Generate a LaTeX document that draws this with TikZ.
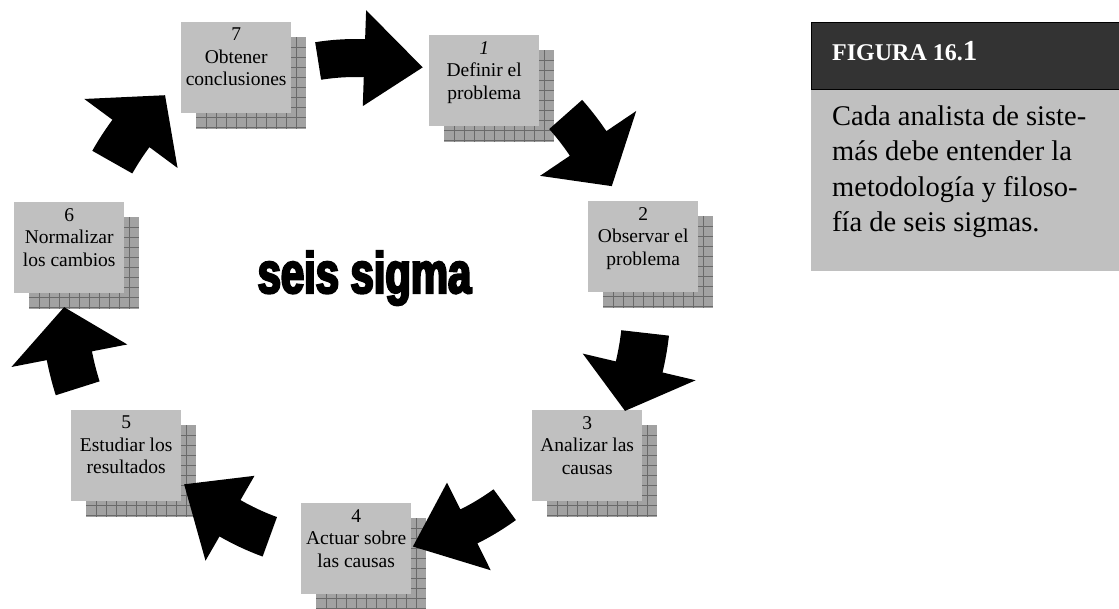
\documentclass[tikz,border=0pt]{standalone}
\usepackage{fontspec}
\setmainfont{Liberation Serif}
\newfontfamily\heavyfont[FakeStretch=0.72,FakeBold=4]{Liberation Sans}
\definecolor{boxgray}{HTML}{C0C0C0}
\definecolor{shadowgray}{HTML}{A2A2A2}
\definecolor{gridcol}{HTML}{6A6A6A}
\definecolor{headgray}{HTML}{333333}
\definecolor{panelgray}{HTML}{C0C0C0}
\tikzset{
  frontbox/.style={fill=boxgray, draw=none, minimum width=110pt, minimum height=91pt, inner sep=0pt, anchor=north west},
  shadowbox/.style={fill=shadowgray, draw=none, minimum width=110pt, minimum height=92pt, inner sep=0pt, anchor=north west},
  gridline/.style={draw=gridcol, line width=0.8pt},
  boxtext/.style={font=\fontsize{19.5}{22.5}\selectfont, align=center, inner sep=0pt, anchor=north},
  arrowfill/.style={fill=black}
}
% stepbox: name, x, y (top-left of front box), text
\newcommand{\stepbox}[4]{%
  \node[shadowbox] (#1s) at (#2+15,#3+15) {};
  \foreach \k in {1,...,10} {\draw[gridline] (#2+15+\k*10,#3+15) -- ++(0,92);}
  \foreach \k in {1,...,9} {\draw[gridline] (#2+15,#3+15+\k*10) -- ++(110,0);}
  \node[frontbox] (#1f) at (#2,#3) {};
  \node[boxtext] (#1t) at ([yshift=-6pt]#1f.north) {#4};
}
% ringarrow: R, a0, a1, a2, shaft half width, head half width
\newcommand{\ringarrow}[6]{%
  \fill[arrowfill] plot[domain=#2:#3,samples=12] ({356+(#1-#5)*cos(\x)},{300+(#1-#5)*sin(\x)})
    -- ({356+(#1-#6)*cos(#3)},{300+(#1-#6)*sin(#3)})
    -- ({356+#1*cos(#4)},{300+#1*sin(#4)})
    -- ({356+(#1+#6)*cos(#3)},{300+(#1+#6)*sin(#3)})
    -- plot[domain=#3:#2,samples=12] ({356+(#1+#5)*cos(\x)},{300+(#1+#5)*sin(\x)})
    -- cycle;
}
\begin{document}
\begin{tikzpicture}[x=1pt,y=-1pt]
\useasboundingbox (0,0) rectangle (1119,608);
\fill[white] (0,0) rectangle (1119,608);

\stepbox{b7}{181}{22}{7\\Obtener\\conclusiones}
\stepbox{b1}{429}{35}{\textit{1}\\Definir el\\problema}
\stepbox{b2}{588}{201}{2\\Observar el\\problema}
\stepbox{b3}{532}{410}{3\\Analizar las\\causas}
\stepbox{b4}{301}{503}{4\\Actuar sobre\\las causas}
\stepbox{b5}{71}{410}{5\\Estudiar los\\resultados}
\stepbox{b6}{14}{202}{6\\Normalizar\\los cambios}

\ringarrow{242}{261}{272}{286}{19}{48}
\ringarrow{280}{-41.5}{-34}{-24}{22}{58}
\ringarrow{291}{6.5}{13.3}{22.4}{24}{58}
\ringarrow{253}{54}{63.5}{77}{19}{49}
\ringarrow{252}{110}{120}{133}{21}{49}
\ringarrow{292}{162.4}{169}{178.6}{23}{59}
\ringarrow{280}{209.5}{216.5}{227}{23}{58}

\node[font=\heavyfont\bfseries\fontsize{58}{58}\selectfont, anchor=base, inner sep=0pt] (title) at (364.5,293) {seis sigma};

\node[fill=panelgray, draw=none, anchor=north west, minimum width=308pt, minimum height=182pt, inner sep=0pt] (body) at (811,89) {};
\node[fill=headgray, draw=black, line width=1pt, anchor=north west, minimum width=308pt, minimum height=67pt, inner sep=0pt] (head) at (811,22) {};
\node[anchor=base west, text=white, inner sep=0pt, font=\bfseries\fontsize{24}{24}\selectfont] (headtext) at (832,60) {FIGURA 16.{\fontsize{29}{29}\selectfont 1}};
\node[anchor=north west, align=left, inner sep=0pt, font=\fontsize{28.5}{35.5}\selectfont] (bodytext) at (832,105.5) {Cada analista de siste-\\más debe entender la\\metodología y filoso-\\fía de seis sigmas.};
\end{tikzpicture}
\end{document}
